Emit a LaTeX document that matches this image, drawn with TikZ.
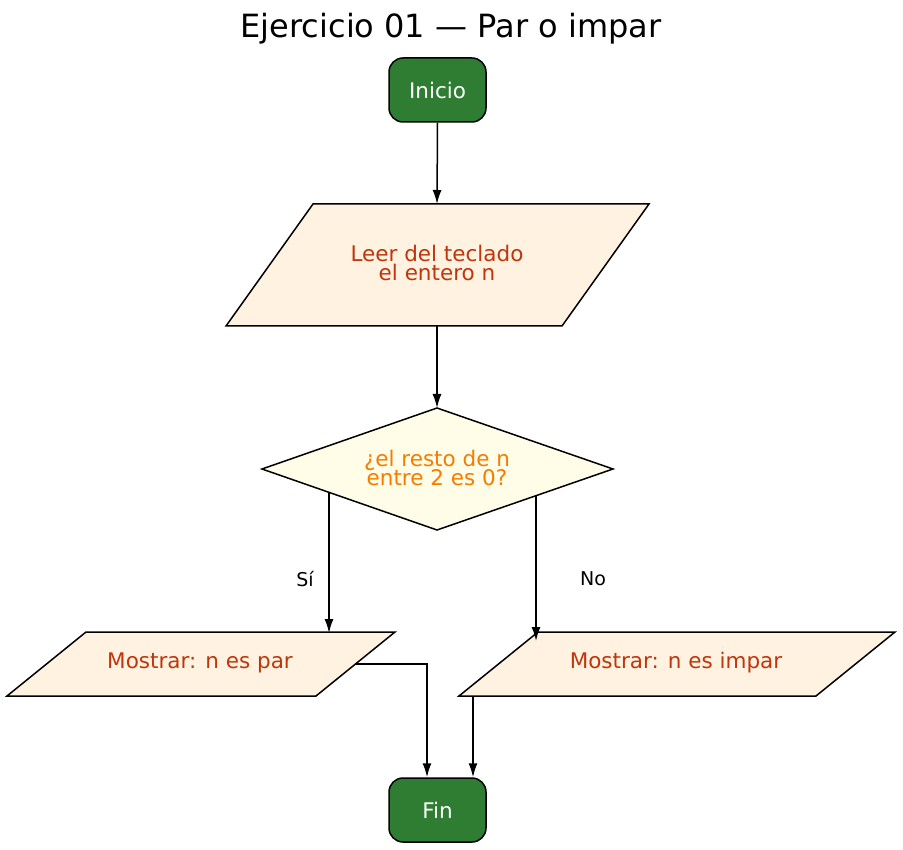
\documentclass[tikz,border=0pt]{standalone}
\usepackage{fontspec}
\setmainfont{DejaVu Sans}
\usetikzlibrary{arrows.meta}
\definecolor{gr}{HTML}{2E7D32}
\definecolor{io}{HTML}{FFF2E0}
\definecolor{iot}{HTML}{BF360C}
\definecolor{dec}{HTML}{FFFDE7}
\definecolor{dect}{HTML}{F57C00}
\begin{document}
\begin{tikzpicture}[x=1pt,y=-1pt,
  term/.style={draw=black,line width=1.5pt,fill=gr,rounded corners=14pt,minimum width=97pt,minimum height=64pt,text=white,font=\fontsize{21.5}{24}\selectfont,inner sep=0},
  shp/.style={draw=black,line width=1.5pt},
  txt/.style={font=\fontsize{21.5}{24}\selectfont,align=center},
  lab/.style={font=\fontsize{19}{21}\selectfont},
  arr/.style={draw=black,line width=1.5pt,-{Latex[length=14pt,width=9pt]}}]
\useasboundingbox (0,0) rectangle (903,850);
\node[font=\fontsize{32}{36}\selectfont] (title) at (451,29) {Ejercicio 01 — Par o impar};
\node[term] (ini) at (437.5,90) {Inicio};
\node[term] (fin) at (437.5,810) {Fin};
\fill[io] (226,326)--(313,204)--(649,204)--(562,326)--cycle;
\draw[shp] (226,326)--(313,204)--(649,204)--(562,326)--cycle;
\node[txt,text=iot] (leer) at (437,263) {Leer del teclado\\[-5pt]el entero n};
\fill[dec] (437,408)--(613,469)--(437,530)--(262,469)--cycle;
\draw[shp] (437,408)--(613,469)--(437,530)--(262,469)--cycle;
\node[txt,text=dect] (d) at (437,468) {¿el resto de n\\[-5pt]entre 2 es 0?};
\fill[io] (7,696)--(86,632)--(395,632)--(316,696)--cycle;
\draw[shp] (7,696)--(86,632)--(395,632)--(316,696)--cycle;
\node[txt,text=iot] (par) at (200,663) {Mostrar: n es par};
\fill[io] (459,696)--(538,632)--(895,632)--(816,696)--cycle;
\draw[shp] (459,696)--(538,632)--(895,632)--(816,696)--cycle;
\node[txt,text=iot] (imp) at (676,663) {Mostrar: n es impar};
\coordinate (p1t) at (437,204); \coordinate (p1b) at (437,326);
\coordinate (dt) at (437,408); \coordinate (dl) at (329,492); \coordinate (dr) at (536,496);
\coordinate (plt) at (329,633); \coordinate (prt) at (536,641);
\coordinate (plr) at (355,664); \coordinate (prb) at (473,696);
\draw[arr] (ini.south) -- (p1t);
\draw[arr] (p1b) -- (dt);
\draw[arr] (dl) -- (plt);
\draw[arr] (dr) -- (prt);
\draw[arr] (plr) -| (fin.north west -| 427,0);
\draw[arr] (prb) -- (fin.north east -| 473,0);
\node[lab] (si) at (305,579) {Sí};
\node[lab] (no) at (593,579) {No};
\end{tikzpicture}
\end{document}
